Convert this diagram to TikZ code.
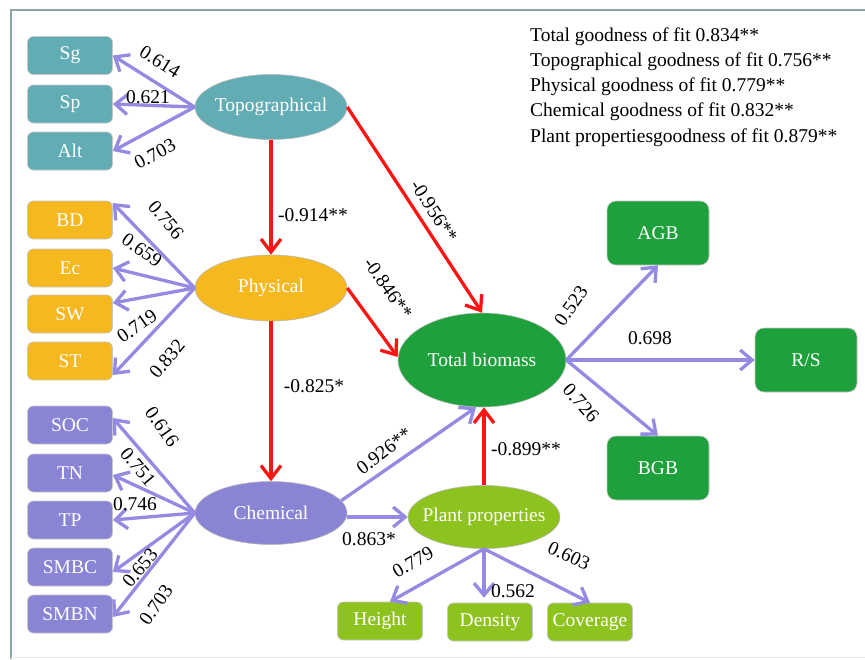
\documentclass[tikz,border=0pt]{standalone}
\usepackage{fontspec}
\setmainfont{Liberation Serif}
\usetikzlibrary{shapes.geometric,arrows.meta,calc}
\definecolor{cteal}{RGB}{98,172,180}
\definecolor{corange}{RGB}{245,184,30}
\definecolor{cpurple}{RGB}{138,132,212}
\definecolor{cgreen}{RGB}{30,160,60}
\definecolor{clime}{RGB}{141,194,31}
\definecolor{arrp}{RGB}{148,138,226}
\definecolor{arrr}{RGB}{255,20,20}
\definecolor{cframe}{RGB}{140,165,170}
\newcommand\zw[1]{\makebox[0pt]{#1}}
\begin{document}
\begin{tikzpicture}[x=1pt,y=-1pt,
 every node/.style={font=\fontsize{19.5}{22}\selectfont},
 mbox/.style={rectangle, rounded corners=6pt, minimum width=85pt, minimum height=38pt, inner sep=0pt, text=white, draw=gray!45, line width=0.6pt, fill=#1},
 bigbox/.style={rectangle, rounded corners=9pt, minimum width=102pt, minimum height=64pt, inner sep=0pt, text=white, draw=gray!45, line width=0.6pt, fill=cgreen},
 mell/.style={ellipse, minimum width=152pt, minimum height=65pt, inner sep=0pt, text=white, draw=gray!55, line width=0.6pt, fill=#1},
 parr/.style={draw=arrp, line width=3.3pt, -{Straight Barb[length=12pt,width=20pt]}},
 rarr/.style={draw=arrr, line width=3.3pt, -{Straight Barb[length=13pt,width=20pt]}},
 lab/.style={inner sep=0pt, text=black},
 leg/.style={anchor=west, inner sep=0pt, text=black}]
\useasboundingbox (0,0) rectangle (865,659);
\fill[white] (0,0) rectangle (865,659);
% frame
\draw[cframe, line width=2pt] (11,659) -- (11,10) -- (865,10);
\draw[gray!15, line width=1pt] (11,657.5) -- (865,657.5);

% legend
\node[leg] (g1) at (530,37) {Total goodness of fit 0.834**};
\node[leg] (g2) at (530,62) {Topographical goodness of fit 0.756**};
\node[leg] (g3) at (530,87) {Physical goodness of fit 0.779**};
\node[leg] (g4) at (530,112) {Chemical goodness of fit 0.832**};
\node[leg] (g5) at (530,138) {Plant propertiesgoodness of fit 0.879**};

% left boxes
\node[mbox=cteal] (Sg) at (70,55.5) {Sg};
\node[mbox=cteal] (Sp) at (70,104) {Sp};
\node[mbox=cteal] (Alt) at (70,151) {Alt};
\node[mbox=corange] (BD) at (70,220) {BD};
\node[mbox=corange] (Ec) at (70,268) {Ec};
\node[mbox=corange] (SW) at (70,314) {SW};
\node[mbox=corange] (ST) at (70,361) {ST};
\node[mbox=cpurple] (SOC) at (70,425) {SOC};
\node[mbox=cpurple] (TN) at (70,473) {TN};
\node[mbox=cpurple] (TP) at (70,520) {TP};
\node[mbox=cpurple] (SMBC) at (70,567) {SMBC};
\node[mbox=cpurple] (SMBN) at (70,614) {SMBN};

% ellipses
\node[mell=cteal] (Topo) at (271,107) {\zw{Topographical}};
\node[mell=corange, minimum height=66pt] (Phys) at (271,288) {\zw{Physical}};
\node[mell=cpurple, minimum height=63pt] (Chem) at (271,513) {\zw{Chemical}};
\node[mell=cgreen, minimum width=168pt, minimum height=94pt] (TB) at (482,360) {\zw{Total biomass}};
\node[mell=clime, minimum height=63pt] (Plant) at (484,517) {\zw{Plant properties}};

% bottom boxes
\node[mbox=clime] (Height) at (380,621) {Height};
\node[mbox=clime] (Dens) at (490,622) {Density};
\node[mbox=clime] (Cov) at (590,622) {Coverage};

% right boxes
\node[bigbox] (AGB) at (658,233) {AGB};
\node[bigbox] (RS) at (806,360) {R/S};
\node[bigbox] (BGB) at (658,468) {BGB};

% purple arrows
\draw[parr] (Topo.west) -- (Sg.east);
\draw[parr] (Topo.west) -- (Sp.east);
\draw[parr] (Topo.west) -- (Alt.east);
\draw[parr] (Phys.west) -- ($(BD.east)+(0,-17)$);
\draw[parr] (Phys.west) -- (Ec.east);
\draw[parr] (Phys.west) -- ($(SW.east)+(0,-11)$);
\draw[parr] (Phys.west) -- ($(ST.east)+(0,14)$);
\draw[parr] (Chem.west) -- ($(SOC.east)+(0,-7)$);
\draw[parr] (Chem.west) -- ($(TN.east)+(0,2)$);
\draw[parr] (Chem.west) -- (TP.east);
\draw[parr] (Chem.west) -- ($(SMBC.east)+(0,5)$);
\draw[parr] (Chem.west) -- ($(SMBN.east)+(0,3)$);
\draw[parr] (Plant.south) -- ($(Height.north)+(10,0)$);
\draw[parr] (Plant.south) -- ($(Dens.north)+(-6,-5)$);
\draw[parr] (Plant.south) -- (Cov.north);
\draw[parr] (TB.east) -- (AGB.south);
\draw[parr] (TB.east) -- (RS.west);
\draw[parr] (TB.east) -- (BGB.north);
\draw[parr] (Chem.10) -- ($(TB.south)+(-6,0)$);
\draw[parr] (Plant.west -| Chem.east) -- (Plant.west);

% red arrows
\draw[rarr] (Topo.south) -- (Phys.north);
\draw[rarr] (Phys.south) -- (Chem.north);
\draw[rarr] (Topo.east) -- (TB.north);
\draw[rarr] (Phys.east) -- ($(TB.west)+(0,-3)$);
\draw[rarr] (Plant.north) -- (Plant.north |- TB.south);

% labels
\node[lab, rotate=-32] (l614) at (160,62) {0.614};
\node[lab] (l621) at (148,97) {0.621};
\node[lab, rotate=28] (l703a) at (155,154) {0.703};
\node[lab, rotate=-50] (l756) at (166,220) {0.756};
\node[lab, rotate=-35] (l659) at (142,250) {0.659};
\node[lab, rotate=35] (l719) at (137,326) {0.719};
\node[lab, rotate=50] (l832) at (167,359) {0.832};
\node[lab] (l914) at (313,215) {-0.914**};
\node[lab] (l825) at (314,386) {-0.825*};
\node[lab, rotate=-55] (l616) at (162,427) {0.616};
\node[lab, rotate=-50] (l751) at (138,467) {0.751};
\node[lab] (l746) at (135,504) {0.746};
\node[lab, rotate=50] (l653) at (140,568) {0.653};
\node[lab, rotate=55] (l703b) at (156,605) {0.703};
\node[lab, rotate=-57] (l956) at (434,211) {-0.956**};
\node[lab, rotate=-55] (l846) at (388,288) {-0.846**};
\node[lab, rotate=55] (l523) at (571,306) {0.523};
\node[lab, rotate=-48] (l726) at (581,403) {0.726};
\node[lab, rotate=37] (l926) at (384,451) {0.926**};
\node[lab] (l899) at (526,449) {-0.899**};
\node[lab] (l698) at (650,338) {0.698};
\node[lab] (l863) at (369,539) {0.863*};
\node[lab, rotate=30] (l779) at (413,562) {0.779};
\node[lab] (l562) at (513,591) {0.562};
\node[lab, rotate=-25] (l603) at (569,556) {0.603};
\end{tikzpicture}
\end{document}
